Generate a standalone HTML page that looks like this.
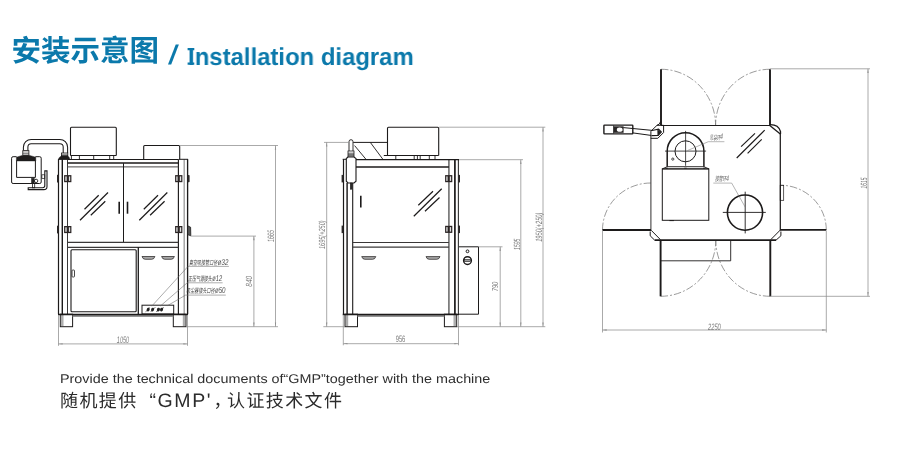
<!DOCTYPE html>
<html lang="zh"><head><meta charset="utf-8"><title>安装示意图 / Installation diagram</title>
<style>
html,body{margin:0;padding:0;background:#fff}
body{width:900px;height:450px;position:relative;overflow:hidden;font-family:"Liberation Sans",sans-serif;text-rendering:geometricPrecision;font-kerning:none}
svg text{text-rendering:geometricPrecision;font-kerning:none}
svg{position:absolute;left:0;top:0;display:block;will-change:transform}
.t{position:absolute;white-space:nowrap;margin:0;line-height:1;transform-origin:0 0;will-change:transform}
#ten{left:185.9px;top:46.1px;font-size:24.4px;font-weight:bold;color:#0b79ab;transform:scaleX(0.979)}
#capI{margin-left:1.9px;margin-right:0.3px}
#cap1{left:60.0px;top:373.2px;font-size:12.7px;color:#2e2e2e;transform:scaleX(1.132)}
</style></head>
<body>
<svg width="900" height="450" viewBox="0 0 900 450" shape-rendering="geometricPrecision">
<rect width="900" height="450" fill="#fff"/>
<g id="drawings">
<path d="M58.5 159.2L58.5 314.2" stroke="#1c1a1a" stroke-width="1.2" fill="none"/>
<path d="M62.3 159.2L62.3 314.2" stroke="#1c1a1a" stroke-width="1.4" fill="none"/>
<path d="M67.5 159.2L67.5 314.2" stroke="#3a3838" stroke-width="1" fill="none"/>
<path d="M178.4 159.2L178.4 314.2" stroke="#1c1a1a" stroke-width="1.15" fill="none"/>
<path d="M184.15 159.2L184.15 314.2" stroke="#7a7a7a" stroke-width="1" fill="none"/>
<path d="M187.6 159.2L187.6 314.2" stroke="#1c1a1a" stroke-width="1.35" fill="none"/>
<path d="M58 159.3L67.4 159.3" stroke="#1c1a1a" stroke-width="1" fill="none"/>
<path d="M178.9 159.3L188 159.3" stroke="#1c1a1a" stroke-width="1" fill="none"/>
<path d="M67.5 159.5L178.4 159.5" stroke="#1c1a1a" stroke-width="1.1" fill="none"/>
<path d="M67.5 163L178.4 163" stroke="#1c1a1a" stroke-width="1.3" fill="none"/>
<path d="M67.5 166.9L178.4 166.9" stroke="#4a4848" stroke-width="1" fill="none"/>
<path d="M123.5 163.2L123.5 242.5" stroke="#1c1a1a" stroke-width="1" fill="none"/>
<path d="M67.5 242.4L178.4 242.4" stroke="#3a3838" stroke-width="1.2" fill="none"/>
<path d="M67.5 247.3L178.4 247.3" stroke="#3a3838" stroke-width="1.2" fill="none"/>
<path d="M119.2 201.7L119.2 213.7" stroke="#1c1a1a" stroke-width="1.6" fill="none"/>
<path d="M127.5 201.7L127.5 213.7" stroke="#1c1a1a" stroke-width="1.6" fill="none"/>
<path d="M84.5 209.2L98.7 195.3" stroke="#1c1a1a" stroke-width="1.2" fill="none"/>
<path d="M80 220.3L108 192.5" stroke="#1c1a1a" stroke-width="1.2" fill="none"/>
<path d="M90.8 215.3L105.3 201.3" stroke="#1c1a1a" stroke-width="1.2" fill="none"/>
<path d="M143.8 209.2L158 195.3" stroke="#1c1a1a" stroke-width="1.2" fill="none"/>
<path d="M139.3 220.3L167.3 192.5" stroke="#1c1a1a" stroke-width="1.2" fill="none"/>
<path d="M150.1 215.3L164.6 201.3" stroke="#1c1a1a" stroke-width="1.2" fill="none"/>
<rect x="57" y="174.8" width="1.6" height="7.7" rx="0" stroke="#1c1a1a" stroke-width="0" fill="#2a2727"/>
<rect x="64.1" y="175.1" width="7.3" height="7.1" rx="0" stroke="#1c1a1a" stroke-width="0" fill="#2a2424"/>
<rect x="65.3" y="176.4" width="1.4" height="4.5" rx="0" stroke="#1c1a1a" stroke-width="0" fill="#e4e4e4"/>
<rect x="68.9" y="176.4" width="1.3" height="4.5" rx="0" stroke="#1c1a1a" stroke-width="0" fill="#e4e4e4"/>
<rect x="175.1" y="175.1" width="7.3" height="7.1" rx="0" stroke="#1c1a1a" stroke-width="0" fill="#2a2424"/>
<rect x="176.3" y="176.4" width="1.3" height="4.5" rx="0" stroke="#1c1a1a" stroke-width="0" fill="#e4e4e4"/>
<rect x="179.8" y="176.4" width="1.4" height="4.5" rx="0" stroke="#1c1a1a" stroke-width="0" fill="#e4e4e4"/>
<rect x="57" y="225.7" width="1.6" height="7.7" rx="0" stroke="#1c1a1a" stroke-width="0" fill="#2a2727"/>
<rect x="64.1" y="226" width="7.3" height="7.1" rx="0" stroke="#1c1a1a" stroke-width="0" fill="#2a2424"/>
<rect x="65.3" y="227.3" width="1.4" height="4.5" rx="0" stroke="#1c1a1a" stroke-width="0" fill="#e4e4e4"/>
<rect x="68.9" y="227.3" width="1.3" height="4.5" rx="0" stroke="#1c1a1a" stroke-width="0" fill="#e4e4e4"/>
<rect x="175.1" y="226" width="7.3" height="7.1" rx="0" stroke="#1c1a1a" stroke-width="0" fill="#2a2424"/>
<rect x="176.3" y="227.3" width="1.3" height="4.5" rx="0" stroke="#1c1a1a" stroke-width="0" fill="#e4e4e4"/>
<rect x="179.8" y="227.3" width="1.4" height="4.5" rx="0" stroke="#1c1a1a" stroke-width="0" fill="#e4e4e4"/>
<rect x="187.6" y="175.1" width="2" height="7.1" rx="0.7" stroke="#1c1a1a" stroke-width="0" fill="#2a2727"/>
<path d="M187.6 225.8L190.6 227.2L190.8 235.8L187.6 234.6Z" stroke="#1c1a1a" stroke-width="0.8" fill="#555"/>
<path d="M138.3 247.3L138.3 314.2" stroke="#1c1a1a" stroke-width="1.3" fill="none"/>
<rect x="71" y="249.8" width="65.2" height="62" rx="1" stroke="#1c1a1a" stroke-width="1.1" fill="none"/>
<rect x="72" y="270" width="2.5" height="7" rx="0.8" stroke="#1c1a1a" stroke-width="0.8" fill="none"/>
<path d="M142 256.5H154.9Q154.1 259.3 151.7 259.3H145.2Q142.8 259.3 142 256.5Z" stroke="#1c1a1a" stroke-width="0.7" fill="#a8a8a8"/>
<path d="M161.6 256.5H174.4Q173.6 259.3 171.2 259.3H164.8Q162.4 259.3 161.6 256.5Z" stroke="#1c1a1a" stroke-width="0.7" fill="#a8a8a8"/>
<rect x="142" y="305.2" width="31.7" height="8.7" rx="0" stroke="#1c1a1a" stroke-width="1" fill="none"/>
<ellipse cx="148.2" cy="309.6" rx="1.5" ry="1.9" fill="#222" transform="rotate(20 148.2 309.6)"/>
<ellipse cx="152.6" cy="309.6" rx="1.5" ry="1.9" fill="#222" transform="rotate(20 152.6 309.6)"/>
<ellipse cx="158.4" cy="309.6" rx="1.5" ry="1.9" fill="#222" transform="rotate(20 158.4 309.6)"/>
<ellipse cx="161.6" cy="309.6" rx="1.5" ry="1.9" fill="#222" transform="rotate(20 161.6 309.6)"/>
<path d="M145.5 312.2L149.5 307.2" stroke="#1c1a1a" stroke-width="0.5" fill="none"/>
<path d="M150.6 312L155.5 307" stroke="#1c1a1a" stroke-width="0.5" fill="none"/>
<path d="M156 311.8L164 307.4" stroke="#1c1a1a" stroke-width="0.5" fill="none"/>
<rect x="60.3" y="314.2" width="12.3" height="12.5" rx="0" stroke="#1c1a1a" stroke-width="1" fill="#fff"/>
<path d="M61.2 314.7L61.2 326.2" stroke="#555" stroke-width="0.5" fill="none"/>
<path d="M62.1 314.7L62.1 326.2" stroke="#555" stroke-width="0.5" fill="none"/>
<path d="M63 314.7L63 326.2" stroke="#555" stroke-width="0.5" fill="none"/>
<rect x="173.3" y="314.2" width="12.7" height="12.5" rx="0" stroke="#1c1a1a" stroke-width="1" fill="#fff"/>
<path d="M185.1 314.7L185.1 326.2" stroke="#555" stroke-width="0.5" fill="none"/>
<path d="M184.2 314.7L184.2 326.2" stroke="#555" stroke-width="0.5" fill="none"/>
<path d="M183.3 314.7L183.3 326.2" stroke="#555" stroke-width="0.5" fill="none"/>
<rect x="72.6" y="315" width="100.7" height="1.9" rx="0" stroke="#1c1a1a" stroke-width="0" fill="#8a8a8a"/>
<path d="M58 314.5L188 314.5" stroke="#1c1a1a" stroke-width="1.4" fill="none"/>
<path d="M70.5 155.5V128.2Q70.5 127.2 71.5 127.2H115.3Q116.3 127.2 116.3 128.2V155.5" stroke="#1c1a1a" stroke-width="1.1" fill="none"/>
<path d="M70.5 155.5L116.3 155.5" stroke="#1c1a1a" stroke-width="1" fill="none"/>
<path d="M71.4 155.5L71.4 159.7" stroke="#1c1a1a" stroke-width="0.9" fill="none"/>
<path d="M79.4 155.5L79.4 159.7" stroke="#1c1a1a" stroke-width="0.9" fill="none"/>
<path d="M93.7 155.5L93.7 159.7" stroke="#1c1a1a" stroke-width="0.9" fill="none"/>
<path d="M109.7 155.5L109.7 159.7" stroke="#1c1a1a" stroke-width="0.9" fill="none"/>
<path d="M113.7 155.5L113.7 159.7" stroke="#1c1a1a" stroke-width="0.9" fill="none"/>
<path d="M143.7 159.5V146.5Q143.7 145.5 144.7 145.5H178.7Q179.7 145.5 179.7 146.5V159.3" stroke="#1c1a1a" stroke-width="1.1" fill="none"/>
<path d="M23.4 150.6V147.2A7.8 7.8 0 0 1 31.2 139.4H59.8A7.8 7.8 0 0 1 67.6 147.2V153.1" stroke="#1c1a1a" stroke-width="1.05" fill="none"/>
<path d="M27.9 150.6V147A3.3 3.3 0 0 1 31.2 143.7H59.9A3.3 3.3 0 0 1 63.2 147V153.1" stroke="#1c1a1a" stroke-width="1.05" fill="none"/>
<rect x="22.8" y="150.6" width="6.1" height="4.6" rx="0" stroke="#1c1a1a" stroke-width="0.8" fill="#fff"/>
<path d="M22.8 152L28.9 152" stroke="#1c1a1a" stroke-width="0.5" fill="none"/>
<path d="M22.8 153.5L28.9 153.5" stroke="#1c1a1a" stroke-width="0.5" fill="none"/>
<path d="M22.8 155.2L16.4 157.2V161H35.8V157.2L28.9 155.2Z" stroke="#1c1a1a" stroke-width="0.4" fill="#1f1d1d"/>
<rect x="61.4" y="153" width="6.4" height="2.8" rx="0" stroke="#1c1a1a" stroke-width="0.8" fill="#fff"/>
<path d="M61.4 154.4L67.8 154.4" stroke="#1c1a1a" stroke-width="0.5" fill="none"/>
<path d="M61.4 155.8L58.9 157.9V159.2H69.6V157.9L67.8 155.8Z" stroke="#1c1a1a" stroke-width="0.4" fill="#1f1d1d"/>
<path d="M16.6 156.7H13.1A1.5 1.5 0 0 0 11.6 158.2V182A1.5 1.5 0 0 0 13.1 183.5H39.7A1.5 1.5 0 0 0 41.2 182V158.2A1.5 1.5 0 0 0 39.7 156.7H35.4" stroke="#1c1a1a" stroke-width="1" fill="none"/>
<path d="M16.6 160.5V177.4H35.4V160.5" stroke="#1c1a1a" stroke-width="1" fill="none"/>
<path d="M31.5 178.2H34.3V183.3H31.5Z" stroke="#1c1a1a" stroke-width="0.5" fill="#222"/>
<circle cx="36.1" cy="180.9" r="1.7" stroke="#1c1a1a" stroke-width="0.9" fill="none"/>
<rect x="32.5" y="183.5" width="2.2" height="4.3" rx="0" stroke="#1c1a1a" stroke-width="0.8" fill="none"/>
<path d="M28.2 187.8H42.6Q44.8 187.8 44.8 185.6V170.9H47V186.4Q47 189.6 43.8 189.6H28.2Z" stroke="#1c1a1a" stroke-width="1.1" fill="none"/>
<rect x="41.9" y="174.8" width="2.9" height="3.6" rx="0" stroke="#1c1a1a" stroke-width="0.7" fill="none"/>
<path d="M179.7 145.5L278 145.5" stroke="#8e8e8e" stroke-width="0.75" fill="none"/>
<path d="M275.5 145.5L275.5 326.7" stroke="#8e8e8e" stroke-width="0.75" fill="none"/>
<path d="M275.5 145.5L276.15 149.7L274.85 149.7Z" fill="#8e8e8e"/>
<path d="M275.5 326.7L274.85 322.5L276.15 322.5Z" fill="#8e8e8e"/>
<path d="M190.8 236.1L256 236.1" stroke="#8e8e8e" stroke-width="0.75" fill="none"/>
<path d="M253.9 236.1L253.9 326.7" stroke="#8e8e8e" stroke-width="0.75" fill="none"/>
<path d="M253.9 236.1L254.55 240.3L253.25 240.3Z" fill="#8e8e8e"/>
<path d="M253.9 326.7L253.25 322.5L254.55 322.5Z" fill="#8e8e8e"/>
<path d="M186 326.7L278 326.7" stroke="#8e8e8e" stroke-width="0.75" fill="none"/>
<path d="M58.5 315L58.5 345.8" stroke="#8e8e8e" stroke-width="0.75" fill="none"/>
<path d="M187.5 315L187.5 345.8" stroke="#8e8e8e" stroke-width="0.75" fill="none"/>
<path d="M58.5 343.9L187.5 343.9" stroke="#8e8e8e" stroke-width="0.75" fill="none"/>
<path d="M58.5 343.9L62.7 343.25L62.7 344.55Z" fill="#8e8e8e"/>
<path d="M187.5 343.9L183.3 344.55L183.3 343.25Z" fill="#8e8e8e"/>
<text transform="translate(271.1 236) rotate(-90) scale(0.570 1)" x="0" y="3.2" text-anchor="middle" font-family="Liberation Sans, sans-serif" font-style="italic" font-weight="normal" font-size="9.3" fill="#7c7c7c">1665</text>
<text transform="translate(249.3 281.3) rotate(-90) scale(0.737 1)" x="0" y="3.05" text-anchor="middle" font-family="Liberation Sans, sans-serif" font-style="italic" font-weight="normal" font-size="8.87" fill="#7c7c7c">840</text>
<text transform="translate(122.9 339.8) rotate(0) scale(0.576 1)" x="0" y="3.25" text-anchor="middle" font-family="Liberation Sans, sans-serif" font-style="italic" font-weight="normal" font-size="9.45" fill="#7c7c7c">1050</text>
<path d="M188 266.4L228.9 266.4" stroke="#777" stroke-width="0.6" fill="none"/>
<path d="M188 266.4L151.7 306.2" stroke="#666" stroke-width="0.55" fill="none"/>
<path d="M187.2 282.8L222.6 282.8" stroke="#777" stroke-width="0.6" fill="none"/>
<path d="M187.2 282.8L160.4 306" stroke="#666" stroke-width="0.55" fill="none"/>
<path d="M185.6 295.1L225.8 295.1" stroke="#777" stroke-width="0.6" fill="none"/>
<path d="M185.6 295.1L167.6 305.6" stroke="#666" stroke-width="0.55" fill="none"/>
<text transform="translate(189 264.6) scale(0.62 1)" x="0" y="0" font-family="'Liberation Sans', 'Noto Sans CJK SC', sans-serif" font-style="italic" font-size="6.5" fill="#3c3c3c">真空吸接管口径</text>
<text transform="translate(223.1 261.9) rotate(0) scale(0.730 1)" x="0" y="2.9" text-anchor="middle" font-family="Liberation Sans, sans-serif" font-style="italic" font-weight="normal" font-size="8.43" fill="#4a4a4a">ø32</text>
<text transform="translate(188 280.9) scale(0.61 1)" x="0" y="0" font-family="'Liberation Sans', 'Noto Sans CJK SC', sans-serif" font-style="italic" font-size="6.5" fill="#3c3c3c">正压气源接头</text>
<text transform="translate(217.2 278) rotate(0) scale(0.675 1)" x="0" y="2.9" text-anchor="middle" font-family="Liberation Sans, sans-serif" font-style="italic" font-weight="normal" font-size="8.43" fill="#4a4a4a">ø12</text>
<text transform="translate(186.3 293.2) scale(0.62 1)" x="0" y="0" font-family="'Liberation Sans', 'Noto Sans CJK SC', sans-serif" font-style="italic" font-size="6.5" fill="#3c3c3c">吸尘器接头口径</text>
<text transform="translate(220.2 290.4) rotate(0) scale(0.730 1)" x="0" y="2.9" text-anchor="middle" font-family="Liberation Sans, sans-serif" font-style="italic" font-weight="normal" font-size="8.43" fill="#4a4a4a">ø50</text>
<path d="M343.5 159.2L343.5 314.2" stroke="#1c1a1a" stroke-width="1.2" fill="none"/>
<path d="M347.1 183L347.1 314.2" stroke="#1c1a1a" stroke-width="1.45" fill="none"/>
<path d="M352.7 183L352.7 314.2" stroke="#1c1a1a" stroke-width="1.1" fill="none"/>
<path d="M448.9 159.7L448.9 314.2" stroke="#777" stroke-width="1.7" fill="none"/>
<path d="M454.9 159.2L454.9 314.2" stroke="#1c1a1a" stroke-width="1.7" fill="none"/>
<path d="M458.4 159.2L458.4 314.2" stroke="#333" stroke-width="1.1" fill="none"/>
<path d="M342.7 159.3L346.5 159.3" stroke="#1c1a1a" stroke-width="1" fill="none"/>
<path d="M356 159.6L459 159.6" stroke="#1c1a1a" stroke-width="1.1" fill="none"/>
<path d="M356 167L448.9 167" stroke="#1c1a1a" stroke-width="1.3" fill="none"/>
<path d="M352.7 242.5L448.9 242.5" stroke="#3a3838" stroke-width="1.2" fill="none"/>
<path d="M352.7 247.2L448.9 247.2" stroke="#3a3838" stroke-width="1.2" fill="none"/>
<path d="M360.8 195.8L360.8 207.5" stroke="#1c1a1a" stroke-width="1.6" fill="none"/>
<path d="M418.3 205.3L433 191.3" stroke="#1c1a1a" stroke-width="1.2" fill="none"/>
<path d="M413.8 216.3L441.7 188.7" stroke="#1c1a1a" stroke-width="1.2" fill="none"/>
<path d="M425 211.3L439.5 197.5" stroke="#1c1a1a" stroke-width="1.2" fill="none"/>
<rect x="445.1" y="175.1" width="7.2" height="7.1" rx="0" stroke="#1c1a1a" stroke-width="0" fill="#2a2424"/>
<rect x="446.3" y="176.4" width="1.3" height="4.5" rx="0" stroke="#1c1a1a" stroke-width="0" fill="#e4e4e4"/>
<rect x="449.8" y="176.4" width="1.3" height="4.5" rx="0" stroke="#1c1a1a" stroke-width="0" fill="#e4e4e4"/>
<rect x="458.4" y="174.9" width="1.6" height="7.5" rx="0" stroke="#1c1a1a" stroke-width="0" fill="#2a2727"/>
<rect x="341.6" y="174.9" width="1.7" height="7.5" rx="0" stroke="#1c1a1a" stroke-width="0" fill="#2a2727"/>
<rect x="445.1" y="225.8" width="7.2" height="7.1" rx="0" stroke="#1c1a1a" stroke-width="0" fill="#2a2424"/>
<rect x="446.3" y="227.1" width="1.3" height="4.5" rx="0" stroke="#1c1a1a" stroke-width="0" fill="#e4e4e4"/>
<rect x="449.8" y="227.1" width="1.3" height="4.5" rx="0" stroke="#1c1a1a" stroke-width="0" fill="#e4e4e4"/>
<rect x="458.4" y="225.6" width="1.6" height="7.5" rx="0" stroke="#1c1a1a" stroke-width="0" fill="#2a2727"/>
<rect x="341.6" y="225.6" width="1.7" height="7.5" rx="0" stroke="#1c1a1a" stroke-width="0" fill="#2a2727"/>
<path d="M361.7 256.6H375.8Q375 259.3 372.6 259.3H364.9Q362.5 259.3 361.7 256.6Z" stroke="#1c1a1a" stroke-width="0.7" fill="#a8a8a8"/>
<path d="M426 256.6H440Q439.2 259.3 436.8 259.3H429.2Q426.8 259.3 426 256.6Z" stroke="#1c1a1a" stroke-width="0.7" fill="#a8a8a8"/>
<rect x="345" y="314.2" width="12.5" height="12.5" rx="0" stroke="#1c1a1a" stroke-width="1" fill="#fff"/>
<path d="M345.9 314.7L345.9 326.2" stroke="#555" stroke-width="0.5" fill="none"/>
<path d="M346.8 314.7L346.8 326.2" stroke="#555" stroke-width="0.5" fill="none"/>
<path d="M347.7 314.7L347.7 326.2" stroke="#555" stroke-width="0.5" fill="none"/>
<rect x="444.4" y="314.2" width="12.3" height="12.5" rx="0" stroke="#1c1a1a" stroke-width="1" fill="#fff"/>
<path d="M455.8 314.7L455.8 326.2" stroke="#555" stroke-width="0.5" fill="none"/>
<path d="M454.9 314.7L454.9 326.2" stroke="#555" stroke-width="0.5" fill="none"/>
<path d="M454 314.7L454 326.2" stroke="#555" stroke-width="0.5" fill="none"/>
<rect x="357.5" y="315" width="86.9" height="1.9" rx="0" stroke="#1c1a1a" stroke-width="0" fill="#8a8a8a"/>
<path d="M342.7 314.5L459 314.5" stroke="#1c1a1a" stroke-width="1.4" fill="none"/>
<path d="M459 246.8H478.5V314.2H459" stroke="#1c1a1a" stroke-width="1" fill="none"/>
<circle cx="467.5" cy="251.3" r="1.4" stroke="#1c1a1a" stroke-width="1" fill="none"/>
<circle cx="467.5" cy="260.6" r="3.9" stroke="#1c1a1a" stroke-width="1.4" fill="none"/>
<rect x="464.3" y="259.5" width="6.4" height="2.1" rx="0" stroke="#1c1a1a" stroke-width="0.6" fill="#9a9a9a"/>
<path d="M387.5 155.5V128.2Q387.5 127.2 388.5 127.2H437.7Q438.7 127.2 438.7 128.2V155.5" stroke="#1c1a1a" stroke-width="1.1" fill="none"/>
<path d="M383.8 155.5L438.7 155.5" stroke="#1c1a1a" stroke-width="1" fill="none"/>
<path d="M395.8 155.5L395.8 159.7" stroke="#1c1a1a" stroke-width="0.9" fill="none"/>
<path d="M414.2 155.5L414.2 159.7" stroke="#1c1a1a" stroke-width="0.9" fill="none"/>
<path d="M417.4 155.5L417.4 159.7" stroke="#1c1a1a" stroke-width="0.9" fill="none"/>
<path d="M420.2 155.5L420.2 159.7" stroke="#1c1a1a" stroke-width="0.9" fill="none"/>
<path d="M429.3 155.5L429.3 159.7" stroke="#1c1a1a" stroke-width="0.9" fill="none"/>
<path d="M435 155.5L435 159.7" stroke="#1c1a1a" stroke-width="0.9" fill="none"/>
<path d="M353.2 142.4L387.5 142.4" stroke="#1c1a1a" stroke-width="1" fill="none"/>
<path d="M354.6 145.6L366.3 159.7" stroke="#1c1a1a" stroke-width="0.9" fill="none"/>
<path d="M370.3 142.4L383.2 159.7" stroke="#1c1a1a" stroke-width="0.9" fill="none"/>
<path d="M349 151V141.7A2 2 0 0 1 353 141.7V151" stroke="#1c1a1a" stroke-width="0.9" fill="#fff"/>
<rect x="348" y="151" width="6" height="6" rx="0" stroke="#1c1a1a" stroke-width="0.8" fill="#fff"/>
<path d="M348 153.2L354 153.2" stroke="#222" stroke-width="0.7" fill="none"/>
<path d="M348 154.4L354 154.4" stroke="#222" stroke-width="0.7" fill="none"/>
<path d="M348 155.6L354 155.6" stroke="#222" stroke-width="0.7" fill="none"/>
<path d="M348 157L346.3 158.6V181.2L348 183H354L356 181.2V158.6L354 157Z" stroke="#1c1a1a" stroke-width="1.1" fill="#fff"/>
<rect x="350.3" y="183" width="1.7" height="6.2" rx="0" stroke="#1c1a1a" stroke-width="0.6" fill="#333"/>
<path d="M324 142.4L349 142.4" stroke="#8e8e8e" stroke-width="0.75" fill="none"/>
<path d="M326.7 142.4L326.7 326.7" stroke="#8e8e8e" stroke-width="0.75" fill="none"/>
<path d="M326.7 142.4L327.35 146.6L326.05 146.6Z" fill="#8e8e8e"/>
<path d="M326.7 326.7L326.05 322.5L327.35 322.5Z" fill="#8e8e8e"/>
<path d="M323.3 326.7L345 326.7" stroke="#8e8e8e" stroke-width="0.75" fill="none"/>
<path d="M438.7 127.2L545.3 127.2" stroke="#8e8e8e" stroke-width="0.75" fill="none"/>
<path d="M543 127.2L543 326.7" stroke="#8e8e8e" stroke-width="0.75" fill="none"/>
<path d="M543 127.2L543.65 131.4L542.35 131.4Z" fill="#8e8e8e"/>
<path d="M543 326.7L542.35 322.5L543.65 322.5Z" fill="#8e8e8e"/>
<path d="M459 159.7L523 159.7" stroke="#8e8e8e" stroke-width="0.75" fill="none"/>
<path d="M520.8 159.7L520.8 326.7" stroke="#8e8e8e" stroke-width="0.75" fill="none"/>
<path d="M520.8 159.7L521.45 163.9L520.15 163.9Z" fill="#8e8e8e"/>
<path d="M520.8 326.7L520.15 322.5L521.45 322.5Z" fill="#8e8e8e"/>
<path d="M478.5 246.8L502.5 246.8" stroke="#8e8e8e" stroke-width="0.75" fill="none"/>
<path d="M500.2 246.8L500.2 326.7" stroke="#8e8e8e" stroke-width="0.75" fill="none"/>
<path d="M500.2 246.8L500.85 251L499.55 251Z" fill="#8e8e8e"/>
<path d="M500.2 326.7L499.55 322.5L500.85 322.5Z" fill="#8e8e8e"/>
<path d="M456.7 326.7L545.3 326.7" stroke="#8e8e8e" stroke-width="0.75" fill="none"/>
<path d="M343.3 315L343.3 345.3" stroke="#8e8e8e" stroke-width="0.75" fill="none"/>
<path d="M458.5 315L458.5 345.3" stroke="#8e8e8e" stroke-width="0.75" fill="none"/>
<path d="M343.3 343.7L458.5 343.7" stroke="#8e8e8e" stroke-width="0.75" fill="none"/>
<path d="M343.3 343.7L347.5 343.05L347.5 344.35Z" fill="#8e8e8e"/>
<path d="M458.5 343.7L454.3 344.35L454.3 343.05Z" fill="#8e8e8e"/>
<text transform="translate(322 234.7) rotate(-90) scale(0.632 1)" x="0" y="3.05" text-anchor="middle" font-family="Liberation Sans, sans-serif" font-style="italic" font-weight="normal" font-size="8.87" fill="#7c7c7c">1695(+250)</text>
<text transform="translate(538.4 227.2) rotate(-90) scale(0.620 1)" x="0" y="3.15" text-anchor="middle" font-family="Liberation Sans, sans-serif" font-style="italic" font-weight="normal" font-size="9.16" fill="#7c7c7c">1950(+250)</text>
<text transform="translate(516.4 244.3) rotate(-90) scale(0.559 1)" x="0" y="3.1" text-anchor="middle" font-family="Liberation Sans, sans-serif" font-style="italic" font-weight="normal" font-size="9.01" fill="#7c7c7c">1595</text>
<text transform="translate(495.3 286.5) rotate(-90) scale(0.671 1)" x="0" y="2.95" text-anchor="middle" font-family="Liberation Sans, sans-serif" font-style="italic" font-weight="normal" font-size="8.58" fill="#7c7c7c">790</text>
<text transform="translate(400.5 339.2) rotate(0) scale(0.619 1)" x="0" y="3.2" text-anchor="middle" font-family="Liberation Sans, sans-serif" font-style="normal" font-weight="normal" font-size="9.3" fill="#7c7c7c">956</text>
<path d="M661 69.25A54.6 56.2 0 0 1 715.6 125.45" stroke="#707070" stroke-width="0.7" fill="none" stroke-dasharray="7.5 2 2 2"/>
<path d="M770 69.25A54.4 56.2 0 0 0 715.6 125.45" stroke="#707070" stroke-width="0.7" fill="none" stroke-dasharray="7.5 2 2 2"/>
<path d="M660.6 296.3A55.2 56.2 0 0 0 715.8 240.1" stroke="#707070" stroke-width="0.7" fill="none" stroke-dasharray="7.5 2 2 2"/>
<path d="M770.3 296.3A54.5 56.2 0 0 1 715.8 240.1" stroke="#707070" stroke-width="0.7" fill="none" stroke-dasharray="7.5 2 2 2"/>
<path d="M602.5 230A48.4 47 0 0 1 650.9 183" stroke="#707070" stroke-width="0.7" fill="none" stroke-dasharray="7.5 2 2 2"/>
<path d="M826.3 230A46 44.8 0 0 0 780.3 185.2" stroke="#707070" stroke-width="0.7" fill="none" stroke-dasharray="7.5 2 2 2"/>
<path d="M661 260.8H730.7V240" stroke="#1c1a1a" stroke-width="0.9" fill="none"/>
<path d="M661 125.45L770 125.45" stroke="#1c1a1a" stroke-width="1.15" fill="none"/>
<path d="M780.3 133.9L780.3 230" stroke="#1c1a1a" stroke-width="1.25" fill="none"/>
<path d="M654.7 240.1L776 240.1" stroke="#1c1a1a" stroke-width="1.6" fill="none"/>
<path d="M650.9 138L650.9 230" stroke="#3a3838" stroke-width="1.05" fill="none"/>
<path d="M769.8 125.4L780.3 134" stroke="#1c1a1a" stroke-width="1.3" fill="none"/>
<path d="M770 124.6Q778.5 124.4 780.5 131.5V134" stroke="#1c1a1a" stroke-width="1.3" fill="none"/>
<path d="M780.3 230L770.8 239.6" stroke="#1c1a1a" stroke-width="1" fill="none"/>
<path d="M780.9 231.5V235.8L776 240.2" stroke="#1c1a1a" stroke-width="1" fill="none"/>
<path d="M651.1 230.2L660.4 239.6" stroke="#1c1a1a" stroke-width="1" fill="none"/>
<path d="M650.2 231.5V235.8L654.7 240.2" stroke="#1c1a1a" stroke-width="1" fill="none"/>
<path d="M661 69.2L661 125.6" stroke="#1c1a1a" stroke-width="1.9" fill="none"/>
<path d="M770 69.2L770 125.6" stroke="#1c1a1a" stroke-width="1.9" fill="none"/>
<path d="M660.6 240L660.6 296.3" stroke="#1c1a1a" stroke-width="1.9" fill="none"/>
<path d="M770.3 240L770.3 296.3" stroke="#1c1a1a" stroke-width="1.9" fill="none"/>
<path d="M602.5 230L651 230" stroke="#1c1a1a" stroke-width="1.9" fill="none"/>
<path d="M780 229.9L826.3 229.9" stroke="#1c1a1a" stroke-width="1.9" fill="none"/>
<rect x="780.2" y="185.3" width="3.5" height="15" rx="0" stroke="#1c1a1a" stroke-width="0.7" fill="none"/>
<path d="M741.1 146.7L755 133.3" stroke="#1c1a1a" stroke-width="1.15" fill="none"/>
<path d="M736.7 158L764.7 130.2" stroke="#1c1a1a" stroke-width="1.15" fill="none"/>
<path d="M747.6 153.3L761.7 139.4" stroke="#1c1a1a" stroke-width="1.15" fill="none"/>
<path d="M667.2 166.7V151.1A18.35 18.35 0 0 1 703.9 151.1V166.7" stroke="#1c1a1a" stroke-width="1.5" fill="none"/>
<circle cx="685.5" cy="151.3" r="10.5" stroke="#1c1a1a" stroke-width="1" fill="none"/>
<path d="M665 151.1L706.1 151.1" stroke="#1c1a1a" stroke-width="0.8" fill="none"/>
<path d="M685.6 130.9L685.6 165.8" stroke="#1c1a1a" stroke-width="0.8" fill="none"/>
<circle cx="672.8" cy="159.1" r="1.1" stroke="#1c1a1a" stroke-width="0.8" fill="none"/>
<path d="M667.2 166.7L662.3 168.9H708.9L703.9 166.7Z" stroke="#1c1a1a" stroke-width="0.9" fill="none"/>
<path d="M665.6 168.2L668 168.2" stroke="#1c1a1a" stroke-width="0.8" fill="none"/>
<path d="M684.3 168.2L686.7 168.2" stroke="#1c1a1a" stroke-width="0.8" fill="none"/>
<path d="M703 168.2L705.4 168.2" stroke="#1c1a1a" stroke-width="0.8" fill="none"/>
<rect x="662.3" y="168.9" width="46.5" height="51.4" rx="0" stroke="#1c1a1a" stroke-width="1" fill="none"/>
<path d="M669.4 220.6L673.9 220.6" stroke="#1c1a1a" stroke-width="1" fill="none"/>
<circle cx="745" cy="212.6" r="17.6" stroke="#1c1a1a" stroke-width="1.6" fill="none"/>
<path d="M722.8 212.4L765.8 212.4" stroke="#1c1a1a" stroke-width="0.9" fill="none"/>
<path d="M745.2 191.7L745.2 233.4" stroke="#1c1a1a" stroke-width="0.9" fill="none"/>
<path d="M708.3 141.7L724.4 141.7" stroke="#888" stroke-width="0.6" fill="none"/>
<path d="M708.3 141.7L687.4 150.6" stroke="#777" stroke-width="0.55" fill="none"/>
<text transform="translate(709.5 139.6) scale(0.56 1)" x="0" y="0" font-family="'Liberation Sans', 'Noto Sans CJK SC', sans-serif" font-style="italic" font-size="6.5" fill="#666">吊装环</text>
<text transform="translate(721.6 136.6) rotate(0) scale(0.574 1)" x="0" y="2.8" text-anchor="middle" font-family="Liberation Sans, sans-serif" font-style="italic" font-weight="normal" font-size="8.14" fill="#666">4</text>
<path d="M713.3 183.1L731.7 183.1" stroke="#888" stroke-width="0.6" fill="none"/>
<path d="M731.7 183.1L745.6 207.8" stroke="#777" stroke-width="0.55" fill="none"/>
<text transform="translate(715 181.3) scale(0.58 1)" x="0" y="0" font-family="'Liberation Sans', 'Noto Sans CJK SC', sans-serif" font-style="italic" font-size="6.5" fill="#666">接管环</text>
<text transform="translate(727.6 178.3) rotate(0) scale(0.574 1)" x="0" y="2.8" text-anchor="middle" font-family="Liberation Sans, sans-serif" font-style="italic" font-weight="normal" font-size="8.14" fill="#666">4</text>
<rect x="603.9" y="125.1" width="28.9" height="8.8" rx="0.6" stroke="#1c1a1a" stroke-width="1.4" fill="none"/>
<rect x="613.6" y="126.3" width="10" height="6.5" rx="0" stroke="#1c1a1a" stroke-width="0" fill="#2a2727"/>
<ellipse cx="619.7" cy="129.7" rx="2.9" ry="2.1" fill="#fff"/>
<path d="M613.6 125.5L613.6 133.5" stroke="#1c1a1a" stroke-width="0.8" fill="none"/>
<path d="M623.3 127.6L652.4 130.4M632.8 132.9L651 135.4" stroke="#1c1a1a" stroke-width="1" fill="none"/>
<path d="M660.8 125.3H663.6V132.5L657.8 138.3H650.9V131.2L657 125.3Z" stroke="#1c1a1a" stroke-width="1" fill="none"/>
<path d="M652 130.5L658.6 129.2L661.3 132L658.2 135.3L651.4 135.6" stroke="#1c1a1a" stroke-width="1.2" fill="none"/>
<path d="M657.6 129.4L660.8 132L657.8 135.2Z" stroke="#1c1a1a" stroke-width="0.5" fill="#222"/>
<path d="M657 125.3Q660 124.6 660.6 121.5" stroke="#1c1a1a" stroke-width="1" fill="none"/>
<path d="M770 68.8L870 68.8" stroke="#8e8e8e" stroke-width="0.75" fill="none"/>
<path d="M770 296.3L870 296.3" stroke="#8e8e8e" stroke-width="0.75" fill="none"/>
<path d="M868 68.8L868 296.3" stroke="#8e8e8e" stroke-width="0.75" fill="none"/>
<path d="M868 68.8L868.65 73L867.35 73Z" fill="#8e8e8e"/>
<path d="M868 296.3L867.35 292.1L868.65 292.1Z" fill="#8e8e8e"/>
<path d="M602.5 231L602.5 332.5" stroke="#8e8e8e" stroke-width="0.75" fill="none"/>
<path d="M826.3 231L826.3 332.5" stroke="#8e8e8e" stroke-width="0.75" fill="none"/>
<path d="M602.5 330L826.3 330" stroke="#8e8e8e" stroke-width="0.75" fill="none"/>
<path d="M602.5 330L606.7 329.35L606.7 330.65Z" fill="#8e8e8e"/>
<path d="M826.3 330L822.1 330.65L822.1 329.35Z" fill="#8e8e8e"/>
<text transform="translate(863.5 183) rotate(-90) scale(0.530 1)" x="0" y="3.15" text-anchor="middle" font-family="Liberation Sans, sans-serif" font-style="italic" font-weight="normal" font-size="9.16" fill="#7c7c7c">1615</text>
<text transform="translate(714.4 326.3) rotate(0) scale(0.619 1)" x="0" y="3.2" text-anchor="middle" font-family="Liberation Sans, sans-serif" font-style="italic" font-weight="normal" font-size="9.3" fill="#7c7c7c">2250</text>
</g>
<g id="cjk">
<text x="11.5" y="61" font-family="'Liberation Sans', 'Noto Sans CJK SC', sans-serif" font-weight="bold" font-size="29.5" fill="#0b79ab">安装示意图</text>
<text x="169" y="63.5" font-family="'Liberation Sans', 'Noto Sans CJK SC', sans-serif" font-weight="bold" font-style="italic" font-size="27" fill="#0b79ab">/</text>
<path d="M187.6 48H194.3V50.2H187.6ZM187.6 62.6H194.3V64.8H187.6Z" fill="#0b79ab"/>
<text x="60" y="406.8" font-family="'Liberation Sans', 'Noto Sans CJK SC', sans-serif" font-size="18" letter-spacing="1.4" fill="#2b2b2b">随机提供</text>
<text x="149.5" y="407.2" font-family="'Liberation Sans', 'Noto Sans CJK SC', sans-serif" font-size="19.5" letter-spacing="1.6" fill="#2b2b2b">“GMP'</text>
<text x="213.5" y="406.8" font-family="'Liberation Sans', 'Noto Sans CJK SC', sans-serif" font-size="18" fill="#2b2b2b">，</text>
<text x="227" y="406.8" font-family="'Liberation Sans', 'Noto Sans CJK SC', sans-serif" font-size="18" letter-spacing="1.4" fill="#2b2b2b">认证技术文件</text>
</g>
</svg>
<h1 class="t" id="ten"><span id="capI">I</span>nstallation diagram</h1>
<p class="t" id="cap1">Provide the technical documents of“GMP”together with the machine</p>
</body></html>
